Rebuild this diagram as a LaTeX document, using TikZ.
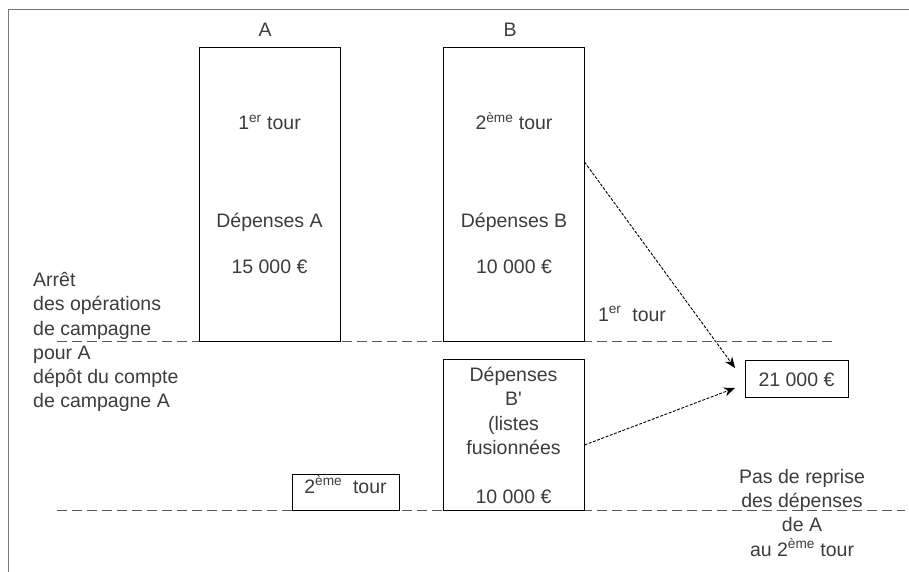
\documentclass[tikz,border=0pt]{standalone}
\usepackage{fontspec}
\setmainfont{Liberation Sans}
\definecolor{framegray}{RGB}{120,120,120}
\definecolor{inkgray}{RGB}{60,60,60}
\usetikzlibrary{arrows.meta, positioning}

\begin{document}
\begin{tikzpicture}[x=1pt,y=-1pt,
      font=\fontsize{19.5}{24.3}\selectfont,
      lbl/.style={inner sep=0pt,anchor=base,text=inkgray},
      col/.style={draw,line width=1pt,minimum width=141pt,inner sep=0pt},
      tag/.style={draw,line width=1pt,inner sep=0pt,text=inkgray},
      sep/.style={line width=1pt,black!65,dash pattern=on 10pt off 5pt},
      flow/.style={line width=0.9pt,dash pattern=on 3pt off 1.5pt,
                   -{Stealth[length=11pt,width=9pt]}}]
    \useasboundingbox (0,0) rectangle (909,572);
    \draw[framegray,line width=1pt] (909,10) -- (8,10) -- (8,572);
    \coordinate (s1l) at (57,341);  \coordinate (s1r) at (837,341);
    \coordinate (s2l) at (57,510);  \coordinate (s2r) at (905,510);
    \draw[sep] (s1l) -- (s1r);
    \draw[sep] (s2l) -- (s2r);
    \node[col,minimum height=293pt] (colA) at (269.5,194.5) {};
    \node[col,minimum height=293pt] (colB) at (513.5,194.5) {};
    \node[col,minimum height=151pt] (colBp) at (513.5,434.5) {};
    \node[tag,minimum width=107pt,minimum height=36pt] (t2) at (345.5,492) {};
    \node[tag,minimum width=103pt,minimum height=37pt] (sum) at (796.5,378.5) {};
    \node[lbl] (hA) at (265,37) {A};
    \node[lbl] (hB) at (510,37) {B};
    \node[lbl] (rA) at (269.5,130) {1\textsuperscript{er} tour};
    \node[lbl] (dA) at (269.5,227) {Dépenses A};
    \node[lbl] (mA) at (269.5,273) {15 000 €};
    \node[lbl] (rB) at (514,130) {2\textsuperscript{ème} tour};
    \node[lbl] (dB) at (514,227) {Dépenses B};
    \node[lbl] (mB) at (514,273) {10 000 €};
    \node[lbl,anchor=north,align=center] (dBp) at (513.5,367)
      {Dépenses\\B\textquotesingle\\(listes\\fusionnées\\ \\10 000 €};
    \node[lbl] (r1) at (632,321) {1\textsuperscript{er}\ \ tour};
    \node[lbl] at (t2.center |- 0,493) {2\textsuperscript{ème}\ \ tour};
    \node[lbl] at (sum.center |- 0,386) {21 000 €};
    \node[lbl,anchor=north west,align=left] (halt) at (33,272)
      {Arrêt\\des opérations\\de campagne\\pour A\\dépôt du compte\\de campagne A};
    \node[lbl,anchor=north,align=center] (norep) at (802,469)
      {Pas de reprise\\des dépenses\\de A\\au 2\textsuperscript{ème} tour};
    \coordinate (fromB) at (colB.east |- 0,162);
    \coordinate (fromBp) at (colBp.east |- 0,445);
    \coordinate (toA) at (735,368);
    \coordinate (toB) at (735,388);
    \draw[flow] (fromB) -- (toA);
    \draw[flow] (fromBp) -- (toB);
  \end{tikzpicture}
\end{document}
